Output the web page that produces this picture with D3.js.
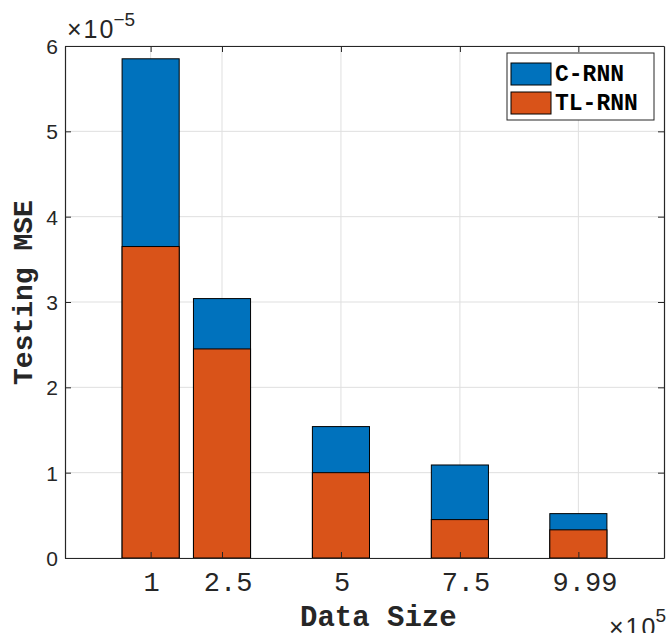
<!DOCTYPE html>
<html>
<head>
<meta charset="utf-8">
<script src="https://cdn.jsdelivr.net/npm/d3@7"></script>
<style>
  body { margin: 0; background: #fff; }
  svg { display: block; }
</style>
</head>
<body>
<div id="chart"></div>
<script>
// data sizes (x 10^5) and testing MSE (x 10^-5)
var dataSizes = [1, 2.5, 5, 7.5, 9.99];
var tickLabels = ["1", "2.5", "5", "7.5", "9.99"];
var cRnn = [5.85, 3.04, 1.54, 1.09, 0.52];
var tlRnn = [3.65, 2.45, 1.00, 0.45, 0.33];
var seriesNames = ["C-RNN", "TL-RNN"];
var yTicks = [0, 1, 2, 3, 4, 5, 6];

var colors = ["#0072BD", "#D95319"];
var axisColor = "#262626";
var mono = "'Liberation Mono', 'Courier New', monospace";
var sans = "'Liberation Sans', Arial, Helvetica, sans-serif";

var margin = { top: 46, right: 3, bottom: 75, left: 65 };
var W = 667, H = 633;
var width = W - margin.left - margin.right;
var height = H - margin.top - margin.bottom;

var svg = d3.select("#chart").append("svg")
    .attr("width", W)
    .attr("height", H);

var chart = svg.append("g")
    .attr("transform", "translate(" + margin.left + "," + margin.top + ")");

var xScale = d3.scaleLinear().domain([-0.8, 11.79]).range([0, width]);
var yScale = d3.scaleLinear().domain([0, 6]).range([height, 0]);

// bar width = 0.8 of the smallest spacing between groups
var minGap = d3.min(d3.pairs(dataSizes), function (p) { return p[1] - p[0]; });
var barW = xScale(0.8 * minGap) - xScale(0);

// MATLAB centres text with Helvetica metrics even for Courier, so the
// monospaced labels sit a little off-centre. Measure that here.
var measurer = svg.append("text").attr("visibility", "hidden");
function sansWidth(str, size, weight) {
    measurer.style("font-family", sans).style("font-size", size + "px")
        .style("font-weight", weight).text(str);
    return measurer.node().getComputedTextLength();
}

// grid
chart.append("g")
    .selectAll("line.gx")
    .data(dataSizes)
    .enter().append("line")
    .attr("x1", function (d) { return xScale(d); })
    .attr("x2", function (d) { return xScale(d); })
    .attr("y1", 0).attr("y2", height)
    .style("stroke", "#dfdfdf").style("stroke-width", 1);
chart.append("g")
    .selectAll("line.gy")
    .data(yTicks)
    .enter().append("line")
    .attr("x1", 0).attr("x2", width)
    .attr("y1", function (d) { return yScale(d); })
    .attr("y2", function (d) { return yScale(d); })
    .style("stroke", "#dfdfdf").style("stroke-width", 1);

// bars, C-RNN behind and TL-RNN in front
[cRnn, tlRnn].forEach(function (values, s) {
    chart.append("g")
        .selectAll("rect")
        .data(values)
        .enter().append("rect")
        .attr("x", function (d, i) { return xScale(dataSizes[i]) - barW / 2; })
        .attr("width", barW)
        .attr("y", function (d) { return yScale(d); })
        .attr("height", function (d) { return height - yScale(d); })
        .style("fill", colors[s])
        .style("stroke", "#000")
        .style("stroke-width", 1);
});

// axes (box on, ticks inside)
function styleAxis(g) {
    g.select(".domain").style("stroke", axisColor).style("stroke-width", 1.2);
    g.selectAll(".tick line").style("stroke", axisColor).style("stroke-width", 1);
}

var xAxis = chart.append("g")
    .attr("transform", "translate(0," + height + ")")
    .call(d3.axisBottom(xScale).tickValues(dataSizes).tickSize(-6).tickSizeOuter(0)
        .tickFormat(function (d, i) { return tickLabels[i]; }));
styleAxis(xAxis);
xAxis.selectAll(".tick text")
    .style("font-family", mono)
    .style("font-size", "27px").style("fill", axisColor)
    .attr("y", 33).attr("dy", 0)
    .attr("text-anchor", "start")
    .attr("x", function (d, i) { return -sansWidth(tickLabels[i], 27, "normal") / 2; });

var xTop = chart.append("g")
    .call(d3.axisTop(xScale).tickValues(dataSizes).tickSize(-6).tickSizeOuter(0)
        .tickFormat(""));
styleAxis(xTop);

var yAxis = chart.append("g")
    .call(d3.axisLeft(yScale).tickValues(yTicks).tickSize(-6).tickSizeOuter(0)
        .tickPadding(7).tickFormat(d3.format("d")));
styleAxis(yAxis);
yAxis.selectAll(".tick text")
    .style("font-family", sans).style("font-size", "21px").style("fill", axisColor)
    .attr("dy", "0.36em");

var yRight = chart.append("g")
    .attr("transform", "translate(" + width + ",0)")
    .call(d3.axisRight(yScale).tickValues(yTicks).tickSize(-6).tickSizeOuter(0)
        .tickFormat(""));
styleAxis(yRight);

// axis labels
var xLab = "Data Size";
chart.append("text")
    .attr("x", width / 2 - sansWidth(xLab, 29, "bold") / 2)
    .attr("y", height + 68)
    .style("font-family", mono).style("font-weight", "bold")
    .style("font-size", "29px").style("fill", axisColor)
    .text(xLab);

var yLab = "Testing MSE";
chart.append("text")
    .attr("transform", "translate(" + (-33) + "," + (height / 2 + sansWidth(yLab, 28, "bold") / 2) + ") rotate(-90)")
    .style("font-family", mono).style("font-weight", "bold")
    .style("font-size", "28px").style("fill", axisColor)
    .text(yLab);

// exponent multipliers
var expTop = svg.append("text")
    .attr("x", 67).attr("y", 38)
    .style("font-family", sans).style("font-size", "25px")
    .style("letter-spacing", "2px").style("fill", axisColor);
expTop.append("tspan").text("\u00d710");
expTop.append("tspan").attr("dx", -2).attr("dy", -12).style("font-size", "19px")
    .style("letter-spacing", "0px").text("\u22125");

var expBottom = svg.append("text")
    .attr("x", 609).attr("y", 636)
    .style("font-family", sans).style("font-size", "25px")
    .style("letter-spacing", "2px").style("fill", axisColor);
expBottom.append("tspan").text("\u00d710");
expBottom.append("tspan").attr("dx", -2).attr("dy", -14).style("font-size", "19px")
    .style("letter-spacing", "0px").text("5");

// legend
var legend = svg.append("g").attr("transform", "translate(507,53)");
legend.append("rect")
    .attr("width", 147).attr("height", 67)
    .style("fill", "#fff").style("stroke", axisColor).style("stroke-width", 1);
seriesNames.forEach(function (name, s) {
    legend.append("rect")
        .attr("x", 4).attr("y", 10 + s * 29)
        .attr("width", 40).attr("height", 22)
        .style("fill", colors[s]).style("stroke", "#000").style("stroke-width", 1);
    legend.append("text")
        .attr("x", 48).attr("y", 28 + s * 29)
        .style("font-family", mono).style("font-weight", "bold")
        .style("font-size", "23px").style("fill", "#000")
        .text(name);
});
measurer.remove();
</script>
</body>
</html>
